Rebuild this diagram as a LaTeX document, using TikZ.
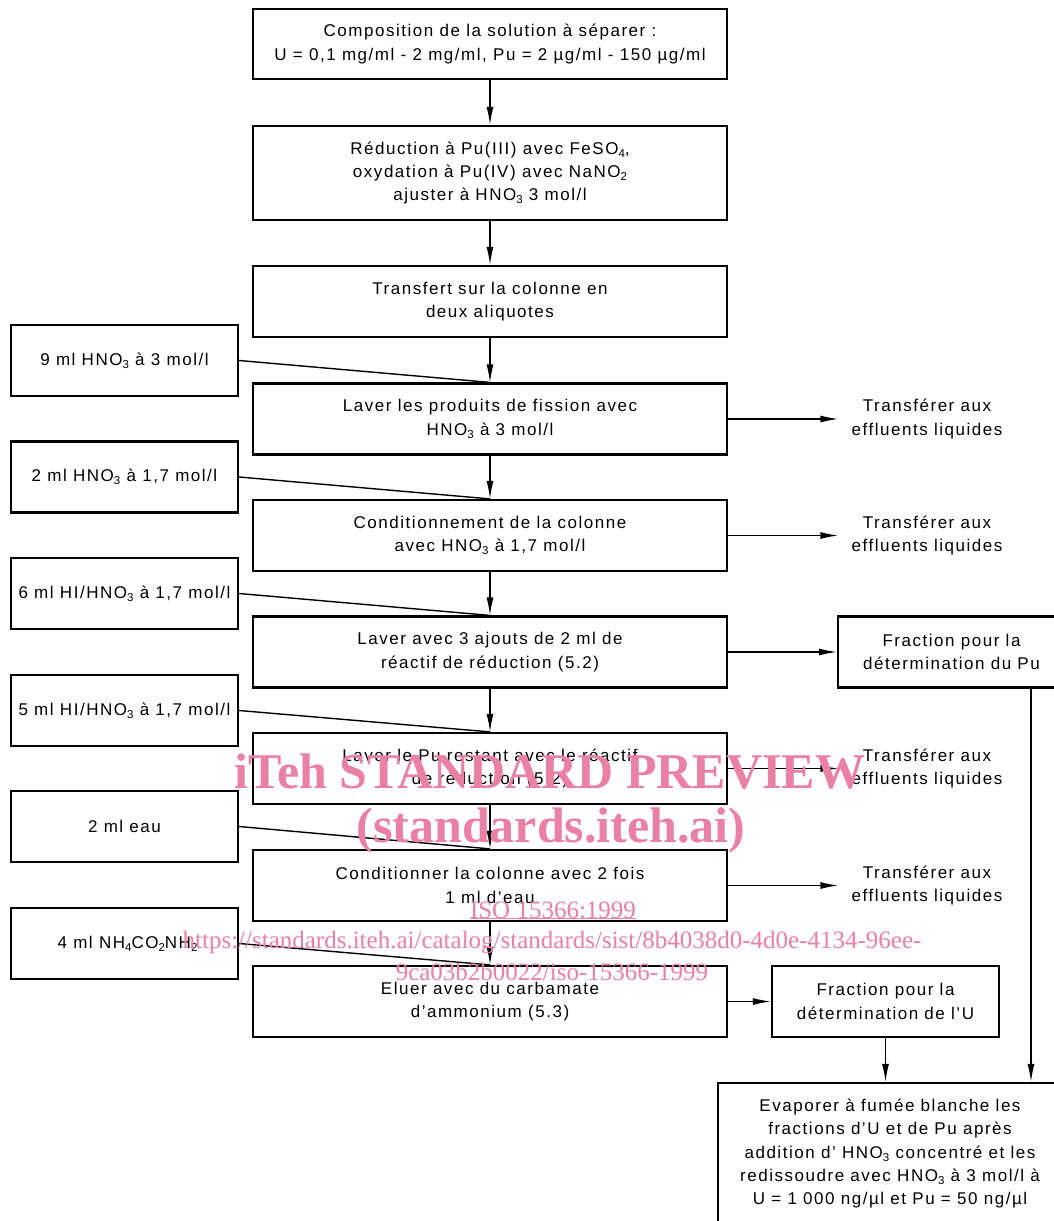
\documentclass[tikz,border=0pt]{standalone}
\usepackage{fontspec}
\setmainfont{Liberation Sans}[LetterSpace=9]
\newfontfamily\wmfont{Liberation Serif}
\usetikzlibrary{arrows.meta}
\definecolor{wmpink}{RGB}{234,128,162}
\newcommand\dn[1]{\raisebox{-0.35ex}{\fontsize{11.5}{11.5}\selectfont #1}}
\tikzset{
  box/.style={draw, line width=2.2pt, inner sep=0pt, align=center, font=\fontsize{17}{23.3}\selectfont},
  mainbox/.style={box, minimum width=474pt, minimum height=71pt},
  sidebox/.style={box, minimum width=227pt, minimum height=71pt},
  conn/.style={line width=1.4pt},
  arr/.style={conn, -{Latex[length=18pt,width=7pt]}},
  note/.style={align=center, inner ysep=0pt, inner xsep=13pt, font=\fontsize{17}{23.3}\selectfont},
  wm/.style={text=wmpink, inner sep=0pt}
}
\begin{document}
\begin{tikzpicture}[x=1pt,y=-1pt]
\useasboundingbox[fill=white] (0,0) rectangle (1053,1221);
% main column
\node[mainbox, minimum height=70pt] (B1) at (490,44) {Composition de la solution à séparer :\\U = 0,1 mg/ml - 2 mg/ml, Pu = 2 µg/ml - 150 µg/ml};
\node[mainbox, minimum height=94pt] (B2) at (490,173) {Réduction à Pu(III) avec FeSO\dn{4},\\oxydation à Pu(IV) avec NaNO\dn{2}\\ajuster à HNO\dn{3} 3 mol/l};
\node[mainbox] (B3) at (490,301.5) {Transfert sur la colonne en\\deux aliquotes};
\node[mainbox] (B4) at (490,419) {Laver les produits de fission avec\\HNO\dn{3} à 3 mol/l};
\node[mainbox] (B5) at (490,535.5) {Conditionnement de la colonne\\avec HNO\dn{3} à 1,7 mol/l};
\node[mainbox] (B6) at (490,652) {Laver avec 3 ajouts de 2 ml de\\réactif de réduction (5.2)};
\node[mainbox] (B7) at (490,768.5) {Laver le Pu restant avec le réactif\\de réduction (5.2)};
\node[mainbox] (B8) at (490,885.5) {Conditionner la colonne avec 2 fois\\1 ml d’eau};
\node[mainbox] (B9) at (490,1001.5) {Eluer avec du carbamate\\d’ammonium (5.3)};
% left boxes
\node[sidebox] (L1) at (124.5,360.5) {9 ml HNO\dn{3} à 3 mol/l};
\node[sidebox] (L2) at (124.5,477) {2 ml HNO\dn{3} à 1,7 mol/l};
\node[sidebox] (L3) at (124.5,593.5) {6 ml HI/HNO\dn{3} à 1,7 mol/l};
\node[sidebox] (L4) at (124.5,710.5) {5 ml HI/HNO\dn{3} à 1,7 mol/l};
\node[sidebox] (L5) at (124.5,826.5) {2 ml eau};
\node[sidebox] (L6) at (124.5,943.5) {\hspace*{6pt}4 ml NH\dn{4}CO\dn{2}NH\dn{2}};
% right side
\node[note] (T4) at (927,419) {Transférer aux\\effluents liquides};
\node[note] (T5) at (927,535.5) {Transférer aux\\effluents liquides};
\node[note] (T7) at (927,768.5) {Transférer aux\\effluents liquides};
\node[note] (T8) at (927,885.5) {Transférer aux\\effluents liquides};
\node[sidebox] (FP) at (951.5,652) {Fraction pour la\\détermination du Pu};
\node[sidebox] (FU) at (885.5,1001.5) {Fraction pour la\\détermination de l’U};
\node[box, minimum width=344pt, minimum height=141pt] (F) at (890,1153.5) {Evaporer à fumée blanche les\\fractions d’U et de Pu après\\addition d’ HNO\dn{3} concentré et les\\redissoudre avec HNO\dn{3} à 3 mol/l à\\U = 1 000 ng/µl et Pu = 50 ng/µl};
% vertical arrows
\draw[arr] (B1) -- (B2);
\draw[arr] (B2) -- (B3);
\draw[arr] (B3) -- (B4);
\draw[arr] (B4) -- (B5);
\draw[arr] (B5) -- (B6);
\draw[arr] (B6) -- (B7);
\draw[arr] (B7) -- (B8);
\draw[arr] (B8) -- (B9);
% reagent lines
\draw[conn] (L1.east) -- (B4.north);
\draw[conn] (L2.east) -- (B5.north);
\draw[conn] (L3.east) -- (B6.north);
\draw[conn] (L4.east) -- (B7.north);
\draw[conn] (L5.east) -- (B8.north);
\draw[conn] (L6.east) -- (B9.north);
% right arrows
\draw[arr] (B4.east) -- (T4.west);
\draw[arr] (B5.east) -- (T5.west);
\draw[arr] (B6.east) -- (FP.west);
\draw[arr] (B7.east) -- (T7.west);
\draw[arr] (B8.east) -- (T8.west);
\draw[arr] (B9.east) -- (FU.west);
\coordinate (pd) at ([xshift=79.5pt]FP.south);
\draw[arr] (pd) -- (pd |- F.north);
\draw[arr] (FU.south) -- (FU.south |- F.north);
% watermark
\node[wm, font=\wmfont\bfseries\fontsize{50}{50}\selectfont] (W1) at (550,772) {iTeh STANDARD PREVIEW};
\node[wm, font=\wmfont\bfseries\fontsize{50}{50}\selectfont] (W2) at (551,830) {(standards.iteh.ai)};
\node[wm, font=\wmfont\fontsize{25}{25}\selectfont] (W3) at (553,910) {ISO 15366:1999};
\draw[wmpink, line width=1pt] (W3.south west) -- (W3.south east);
\node[wm, font=\wmfont\fontsize{25}{25}\selectfont] (W4) at (552,943) {https://standards.iteh.ai/catalog/standards/sist/8b4038d0-4d0e-4134-96ee-};
\node[wm, font=\wmfont\fontsize{25}{25}\selectfont] (W5) at (552,972) {9ca03b2b0022/iso-15366-1999};
\end{tikzpicture}
\end{document}
